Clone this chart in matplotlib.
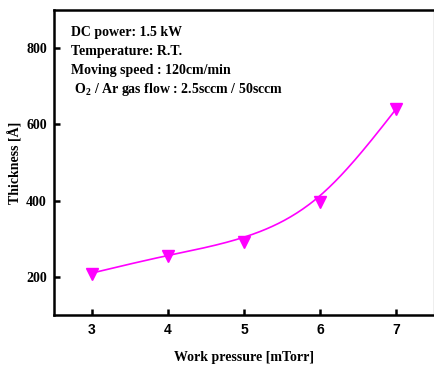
import numpy as np
import matplotlib
matplotlib.use("Agg")
import matplotlib.pyplot as plt

plt.rcParams['mathtext.fontset'] = 'custom'
plt.rcParams['mathtext.rm'] = 'Liberation Serif:bold'
plt.rcParams['mathtext.default'] = 'rm'

pressure = np.array([3, 4, 5, 6, 7])
thickness = np.array([207, 254, 291, 395, 640])
# smooth guide curve as drawn in the figure, read at the same pressures
curve_thickness = np.array([210, 256, 304, 413, 640])
notes = ["DC power: 1.5 kW",
         "Temperature: R.T.",
         "Moving speed : 120cm/min",
         r" O$_2$ / Ar gas flow : 2.5sccm / 50sccm"]


def natural_spline(x, y, xs):
    n = len(x)
    h = np.diff(x).astype(float)
    A = np.zeros((n, n))
    b = np.zeros(n)
    A[0, 0] = A[-1, -1] = 1
    for i in range(1, n - 1):
        A[i, i - 1] = h[i - 1]
        A[i, i] = 2 * (h[i - 1] + h[i])
        A[i, i + 1] = h[i]
        b[i] = 6 * ((y[i + 1] - y[i]) / h[i] - (y[i] - y[i - 1]) / h[i - 1])
    M = np.linalg.solve(A, b)
    idx = np.clip(np.searchsorted(x, xs) - 1, 0, n - 2)
    x0, x1 = x[idx], x[idx + 1]
    hh = h[idx]
    return (M[idx] * (x1 - xs) ** 3 / (6 * hh) + M[idx + 1] * (xs - x0) ** 3 / (6 * hh)
            + (y[idx] / hh - M[idx] * hh / 6) * (x1 - xs)
            + (y[idx + 1] / hh - M[idx + 1] * hh / 6) * (xs - x0))


xs = np.linspace(3, 7, 200)
ys = natural_spline(pressure, curve_thickness, xs)

fig = plt.figure(figsize=(4.35, 3.65), dpi=100)
ax = fig.add_axes([0.124, 0.137, 0.874, 0.836])

ax.plot(xs, ys, color='#ff00ff', lw=1.2)
ax.plot(pressure, thickness, 'v', color='#ff00ff', ms=8, ls='none')

ax.set_xlim(2.5, 7.5)
ax.set_ylim(100, 900)
ax.set_xticks(pressure)
ax.set_yticks([200, 400, 600, 800])

for s in ['left', 'bottom', 'top']:
    ax.spines[s].set_linewidth(1.8)
ax.spines['right'].set_linewidth(1.0)
ax.spines['right'].set_color('#aaaaaa')

ax.tick_params(axis='x', direction='in', length=4, width=1.8, pad=6)
ax.tick_params(axis='y', direction='in', length=4, width=1.8, pad=5)
for lbl in ax.get_xticklabels():
    lbl.set_fontfamily('Liberation Sans')
    lbl.set_fontweight('bold')
    lbl.set_fontsize(10)
for lbl in ax.get_yticklabels():
    lbl.set_fontfamily('Liberation Serif')
    lbl.set_fontweight('bold')
    lbl.set_fontsize(10)

ax.set_xlabel("Work pressure [mTorr]", fontfamily='Liberation Serif',
              fontweight='bold', fontsize=10, labelpad=10)
ax.set_ylabel("Thickness [Å]", fontfamily='Liberation Serif',
              fontweight='bold', fontsize=10, labelpad=3)

for i, line in enumerate(notes):
    ax.text(0.045, 0.926 - i * 0.062, line, transform=ax.transAxes,
            fontfamily='Liberation Serif', fontweight='bold', fontsize=10,
            va='center', ha='left')

fig.savefig("out.png", dpi=100)
